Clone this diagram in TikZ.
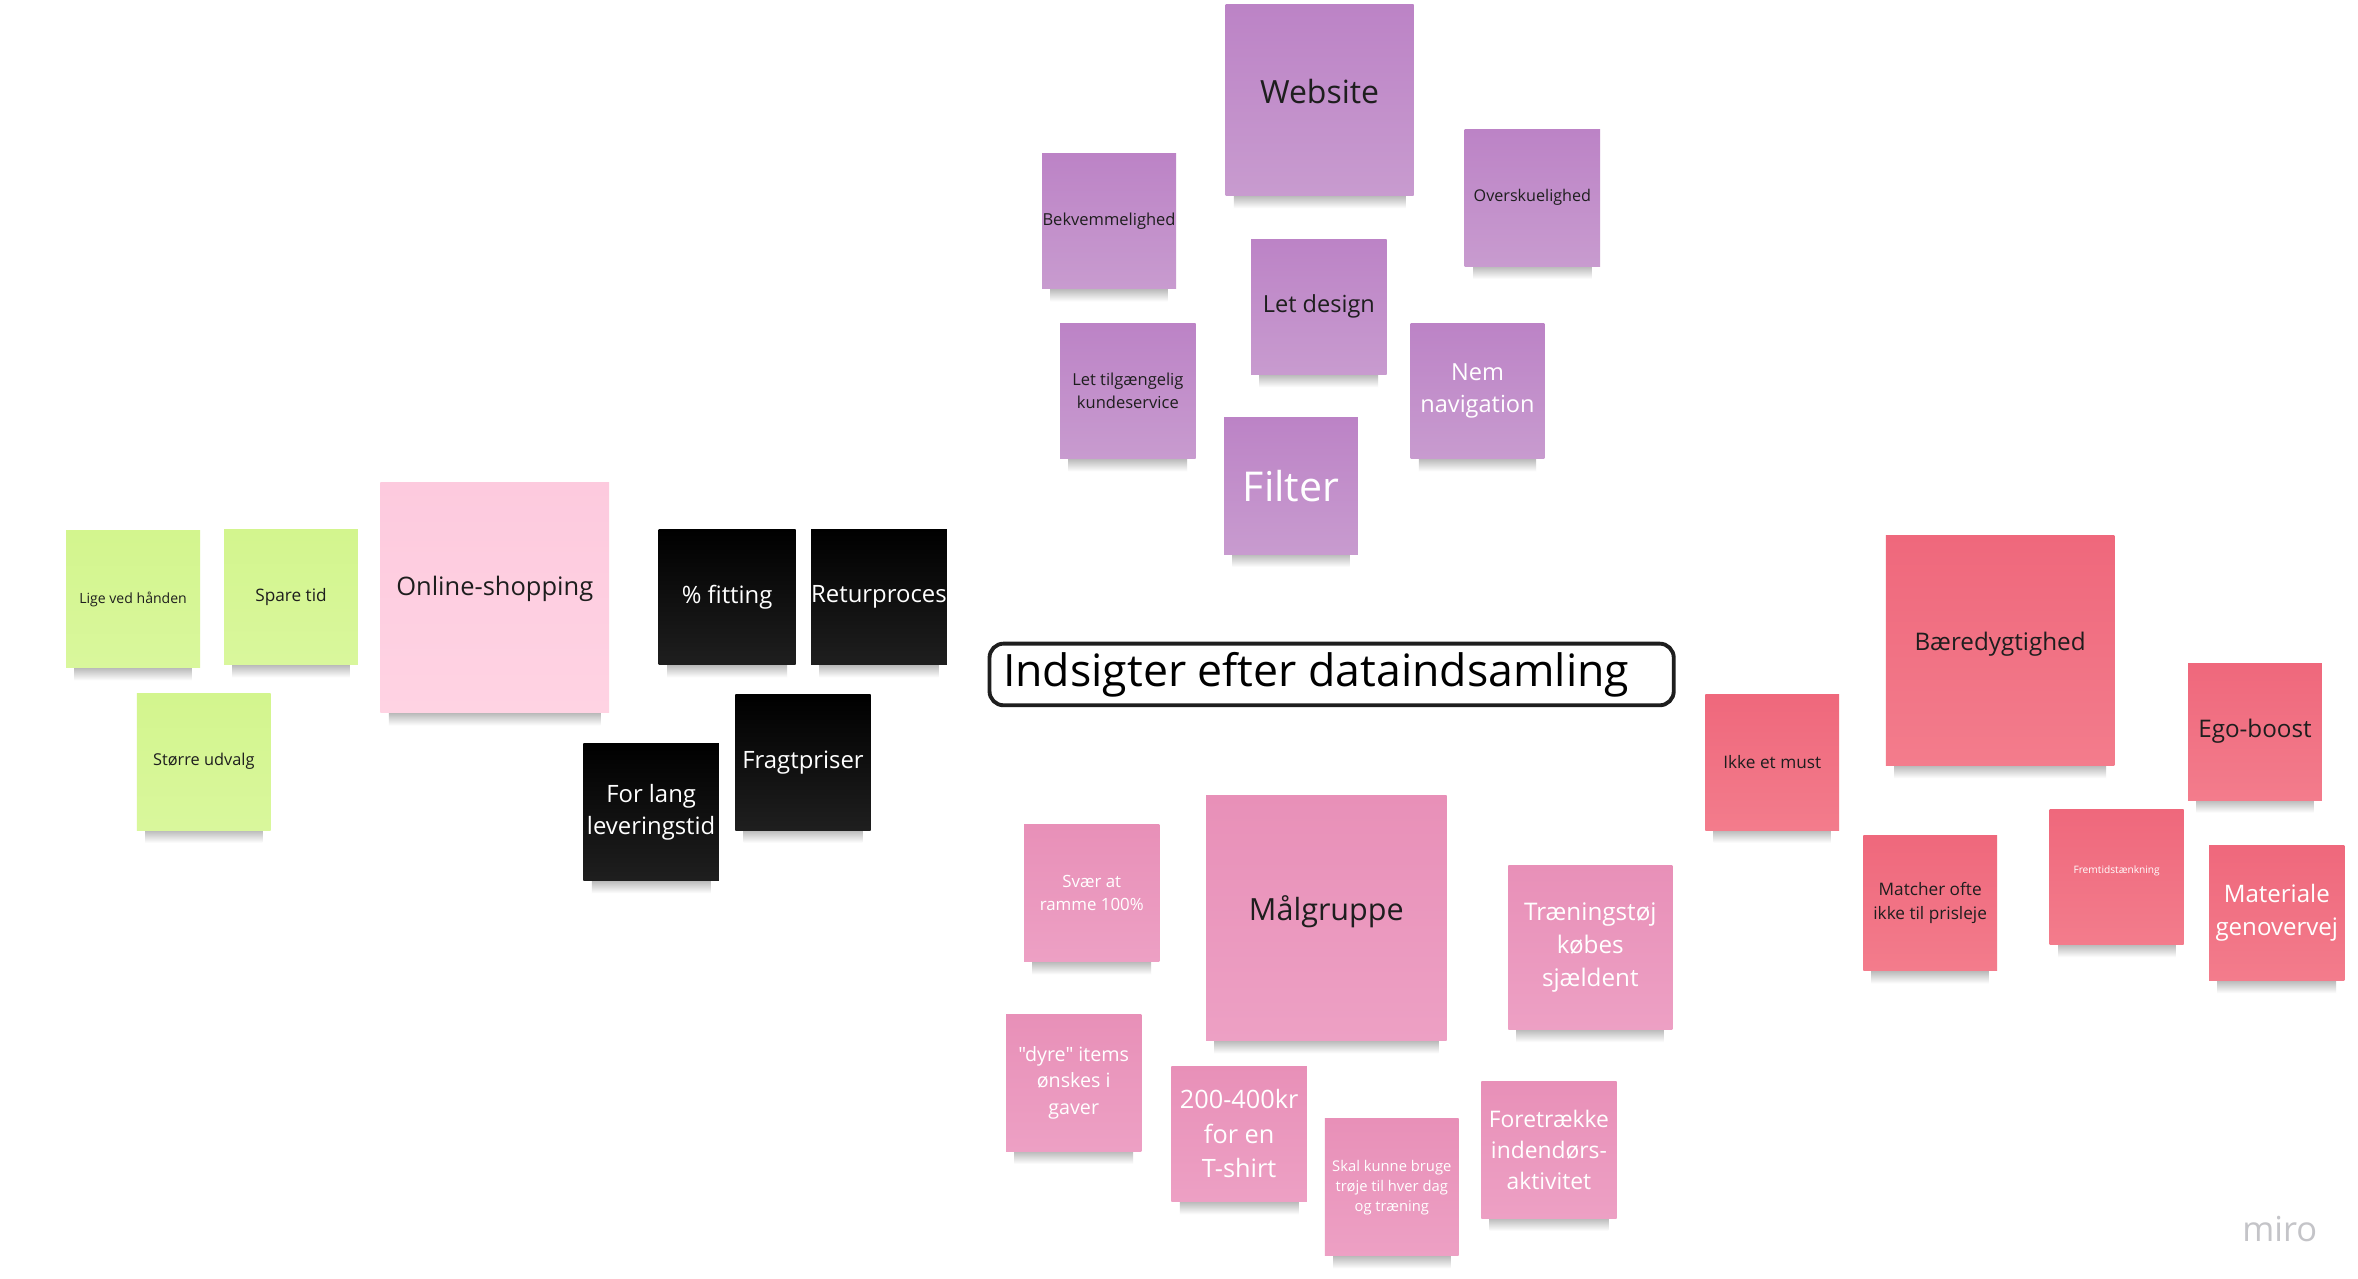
\documentclass[tikz,border=0pt]{standalone}
\usepackage{fontspec}
\setmainfont{Open Sans}[Ligatures=TeXOff]
\usetikzlibrary{backgrounds}

\newlength{\px}\setlength{\px}{0.01504cm}
\newcommand{\nfs}[1]{\fontsize{#1}{\fpeval{1.36*#1}}\selectfont}

\definecolor{inkblack}{HTML}{1E1E1E}
\definecolor{violetTop}{HTML}{BC83C6}
\definecolor{violetBot}{HTML}{C89BCF}
\definecolor{limeTop}{HTML}{D3F58E}
\definecolor{limeBot}{HTML}{D9F79C}
\definecolor{blushTop}{HTML}{FDCADE}
\definecolor{blushBot}{HTML}{FFD3E3}
\definecolor{pinkTop}{HTML}{E890B8}
\definecolor{pinkBot}{HTML}{EDA0C4}
\definecolor{coralTop}{HTML}{EF687C}
\definecolor{coralBot}{HTML}{F37C8C}
\definecolor{miroGray}{HTML}{C4C4C8}

\tikzset{
  note/.style={rectangle, inner sep=0pt, align=center, text=inkblack,
    minimum width=90\px, minimum height=90\px},
  purplenote/.style={note, top color=violetTop, bottom color=violetBot},
  greennote/.style={note, top color=limeTop, bottom color=limeBot},
  blushnote/.style={note, top color=blushTop, bottom color=blushBot},
  blacknote/.style={note, top color=black, bottom color=black!88!white, text=white},
  pinknote/.style={note, top color=pinkTop, bottom color=pinkBot},
  rednote/.style={note, top color=coralTop, bottom color=coralBot},
  lighttext/.style={text=white},
  noteshadow/.style={shading=axis, top color=black!36, bottom color=white}
}

\begin{document}
\begin{tikzpicture}[x=1\px, y=-1\px]
\useasboundingbox (0,0) rectangle (1568,850);

% website cluster
\node[purplenote, minimum width=125\px, minimum height=127\px, font=\nfs{9.1}, text depth=5pt] (website) at (877.5,66.5) {Website};
\node[purplenote, minimum width=89\px, font=\nfs{4.7}] (bekvem) at (737.5,147) {Bekvemmelighed};
\node[purplenote, minimum height=91\px, font=\nfs{4.6}] (oversk) at (1019,131.5) {Overskuelighed};
\node[purplenote, font=\nfs{6.7}] (letdesign) at (877,204) {Let design};
\node[purplenote, font=\nfs{4.7}] (kundeservice) at (750,260) {Let tilgængelig\\kundeservice};
\node[purplenote, lighttext, minimum width=89\px, font=\nfs{6.7}] (nemnav) at (982.5,260) {Nem\\navigation};
\node[purplenote, lighttext, minimum width=89\px, minimum height=91\px, font=\nfs{11.7}] (filter) at (858.5,323) {Filter};

% online-shopping cluster
\node[greennote, minimum width=89\px, minimum height=91\px, font=\nfs{4.0}] (lige) at (88.5,398.5) {Lige ved hånden};
\node[greennote, minimum width=89\px, font=\nfs{4.9}] (sparetid) at (193.5,397) {Spare tid};
\node[greennote, minimum width=89\px, minimum height=91\px, font=\nfs{4.65}] (udvalg) at (135.5,506.5) {Større udvalg};
\node[blushnote, minimum width=152\px, minimum height=153\px, font=\nfs{7.25}, text depth=7pt] (online) at (329,397.5) {Online-shopping};
\node[blacknote, minimum width=91\px, font=\nfs{6.8}] (fitting) at (483.5,397) {\% fitting};
\node[blacknote, minimum width=89\px, font=\nfs{6.8}] (retur) at (584.5,397) {Returproces};
\node[blacknote, font=\nfs{6.8}] (fragt) at (534,507) {Fragtpriser};
\node[blacknote, minimum height=91\px, font=\nfs{6.8}] (levering) at (433,540) {For lang\\leveringstid};

% title
\node[draw=inkblack, line width=1.1pt, rounded corners=4pt, fill=white,
  inner xsep=9\px, inner ysep=0pt, minimum height=41\px, font=\nfs{12.7}] (title) at (885.5,448.5)
  {\makebox[437\px][l]{Indsigter efter dataindsamling}};

% målgruppe cluster
\node[pinknote, lighttext, minimum height=91\px, font=\nfs{4.8}] (svaer) at (726,594) {Svær at\\ramme 100\%};
\node[pinknote, minimum width=160\px, minimum height=163\px, font=\nfs{8.7}, text depth=5.5pt] (malgruppe) at (882,610.5) {Målgruppe};
\node[pinknote, lighttext, minimum width=109\px, minimum height=109\px, font=\nfs{6.9}] (traening) at (1057.5,630) {Træningstøj\\købes\\sjældent};
\node[pinknote, lighttext, minimum height=91\px, font=\nfs{5.6}] (dyre) at (714,720) {"dyre" items\\ønskes i\\gaver};
\node[pinknote, lighttext, font=\nfs{7.2}] (pris) at (824,754) {200-400kr\\for en\\T-shirt};
\node[pinknote, lighttext, minimum width=89\px, minimum height=91\px, font=\nfs{4.2}] (skal) at (925.5,789.5) {Skal kunne bruge\\trøje til hver dag\\og træning};
\node[pinknote, lighttext, minimum height=91\px, font=\nfs{6.5}] (foretr) at (1030,764.5) {Foretrække\\indendørs-\\aktivitet};

% bæredygtighed cluster
\node[rednote, minimum width=89\px, font=\nfs{4.9}] (ikkemust) at (1178.5,507) {Ikke et must};
\node[rednote, minimum width=152\px, minimum height=153\px, font=\nfs{6.9}, text depth=5pt] (baere) at (1330,432.5) {Bæredygtighed};
\node[rednote, minimum width=89\px, minimum height=91\px, font=\nfs{6.9}] (ego) at (1499.5,486.5) {Ego-boost};
\node[rednote, minimum width=89\px, font=\nfs{4.9}] (matcher) at (1283.5,600.5) {Matcher ofte\\ikke til prisleje};
\node[rednote, lighttext, minimum width=89\px, font=\nfs{2.9}, text depth=4pt] (fremtid) at (1407.5,583) {Fremtidstænkning};
\node[rednote, lighttext, font=\nfs{6.85}] (materiale) at (1514,607) {Materiale\\genovervej};

% watermark
\node[text=miroGray, font=\nfs{9.8}] (logo) at (1516,817) {miro};

% soft shadows under the notes
\begin{scope}[on background layer]
\fill[white] (0,0) rectangle (1568,850);
\foreach \n in {website,bekvem,oversk,letdesign,kundeservice,nemnav,filter,
  lige,sparetid,udvalg,online,fitting,retur,fragt,levering,
  svaer,malgruppe,traening,dyre,pris,skal,foretr,
  ikkemust,baere,ego,matcher,fremtid,materiale}
  \shade[noteshadow] ([shift={(6,-3)}]\n.south west) rectangle ([shift={(-6,8)}]\n.south east);
\end{scope}
\end{tikzpicture}
\end{document}
